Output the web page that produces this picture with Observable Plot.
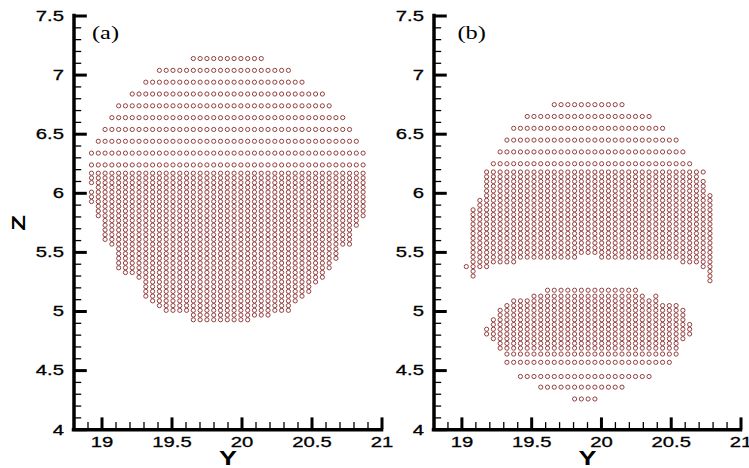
<!DOCTYPE html>
<html>
<head>
<meta charset="utf-8">
<script src="https://cdn.jsdelivr.net/npm/d3@7"></script>
<script src="https://cdn.jsdelivr.net/npm/@observablehq/plot@0.6"></script>
<style>
  html, body { margin: 0; padding: 0; background: #fff; }
  #chart { position: relative; width: 749px; height: 468px; overflow: hidden; }
  #chart svg { position: absolute; top: 0; overflow: visible; }
</style>
</head>
<body>
<div id="chart"></div>
<script>
// Axis ticks (Y horizontal, Z vertical)
const yMajor = [19, 19.5, 20, 20.5, 21];
const zMajor = [4, 4.5, 5, 5.5, 6, 6.5, 7, 7.5];
const yDomain = [18.8, 21];
const zDomain = [4, 7.5];

// Particle lattice spacing along Y
const STEP = 0.0485;

// Panel (a): one particle row per entry -> [Z, first Y, last Y]
const rowsA = [
  [7.14, 19.63, 20.12], [7.04, 19.43, 20.32], [6.94, 19.33, 20.43],
  [6.84, 19.22, 20.57], [6.74, 19.13, 20.62], [6.64, 19.08, 20.72],
  [6.54, 19.03, 20.78], [6.44, 18.98, 20.82], [6.34, 18.93, 20.87],
  [6.24, 18.93, 20.87],
  [6.17, 18.93, 20.87], [6.13, 18.93, 20.87], [6.09, 18.93, 20.87],
  [6.05, 18.95, 20.87], [6.01, 18.93, 20.87], [5.97, 18.93, 20.87],
  [5.93, 18.93, 20.87], [5.89, 18.95, 20.87], [5.85, 18.97, 20.87],
  [5.81, 18.97, 20.85], [5.77, 19.01, 20.83], [5.73, 19.02, 20.81],
  [5.69, 19.03, 20.79], [5.65, 19.03, 20.77], [5.61, 19.03, 20.77],
  [5.57, 19.08, 20.76], [5.53, 19.13, 20.69], [5.49, 19.13, 20.67],
  [5.45, 19.13, 20.65], [5.41, 19.13, 20.64], [5.37, 19.13, 20.62],
  [5.33, 19.18, 20.57], [5.29, 19.27, 20.56], [5.25, 19.32, 20.53],
  [5.21, 19.32, 20.49], [5.17, 19.32, 20.46], [5.13, 19.32, 20.42],
  [5.09, 19.38, 20.37], [5.05, 19.42, 20.34], [5.01, 19.46, 20.32],
  [4.97, 19.63, 20.17], [4.93, 19.67, 20.02]
];

// Panel (b): upper body split from a lower blob
const rowsB = [
  [6.75, 19.68, 20.13], [6.65, 19.47, 20.33], [6.55, 19.38, 20.43],
  [6.45, 19.33, 20.53], [6.35, 19.28, 20.58], [6.25, 19.23, 20.62],
  [6.18, 19.18, 20.73], [6.14, 19.18, 20.67], [6.10, 19.18, 20.71],
  [6.06, 19.18, 20.71], [6.02, 19.18, 20.71], [5.98, 19.18, 20.76],
  [5.94, 19.13, 20.78], [5.90, 19.13, 20.78], [5.86, 19.08, 20.78],
  [5.82, 19.08, 20.78], [5.78, 19.08, 20.78], [5.74, 19.08, 20.78],
  [5.70, 19.08, 20.78], [5.66, 19.08, 20.78], [5.62, 19.08, 20.78],
  [5.58, 19.08, 20.78], [5.54, 19.08, 20.78], [5.50, 19.08, 20.78],
  [5.46, 19.08, 19.83], [5.46, 20.02, 20.78],
  [5.42, 19.08, 19.38], [5.42, 20.59, 20.78],
  [5.38, 19.03, 19.18], [5.38, 20.73, 20.78],
  [5.34, 19.08, 19.08], [5.34, 20.78, 20.78],
  [5.30, 19.08, 19.08], [5.30, 20.78, 20.78],
  [5.26, 20.78, 20.78],
  [5.18, 19.63, 20.23],
  [5.13, 19.53, 20.29], [5.13, 20.41, 20.41],
  [5.09, 19.39, 20.41], [5.05, 19.34, 20.53], [5.01, 19.28, 20.56],
  [4.97, 19.26, 20.57], [4.93, 19.24, 20.57], [4.89, 19.24, 20.62],
  [4.85, 19.19, 20.62], [4.81, 19.19, 20.62], [4.77, 19.24, 20.57],
  [4.73, 19.28, 20.54], [4.69, 19.28, 20.52], [4.64, 19.33, 20.52],
  [4.57, 19.33, 20.48], [4.45, 19.43, 20.33], [4.36, 19.58, 20.13],
  [4.26, 19.79, 19.93]
];

// Expand each row onto the regular Y lattice of its panel
function particles(rows, origin) {
  const pts = [];
  for (const [z, y0, y1] of rows) {
    const k0 = Math.round((y0 - origin) / STEP);
    const k1 = Math.round((y1 - origin) / STEP);
    for (let k = k0; k <= k1; k++) pts.push({Y: origin + k * STEP, Z: z});
  }
  return pts;
}

const yMinor = d3.range(188, 211).map(i => i / 10).filter(v => !yMajor.some(m => Math.abs(m - v) < 1e-6));
const zMinor = d3.range(40, 76).map(i => i / 10).filter(v => !zMajor.some(m => Math.abs(m - v) < 1e-6));
const fmt = d => String(d);

function panel({rows, origin, tag, tagDx, width, marginLeft, marginRight, showZ}) {
  const marks = [
    Plot.dot(particles(rows, origin), {x: "Y", y: "Z", r: 2.1, stroke: "#8e3636", strokeWidth: 0.95, fill: "none"}),
    Plot.ruleY(zMinor, {x1: yDomain[0], x2: 18.855, stroke: "#000", strokeWidth: 1.3}),
    Plot.ruleY(zMajor, {x1: yDomain[0], x2: 18.895, stroke: "#000", strokeWidth: 3}),
    Plot.ruleX(yMinor, {y1: zDomain[0], y2: 4.06, stroke: "#000", strokeWidth: 1.3}),
    Plot.ruleX(yMajor, {y1: zDomain[0], y2: 4.1, stroke: "#000", strokeWidth: 3}),
    Plot.ruleX([yDomain[0]], {stroke: "#000", strokeWidth: 3.5, strokeLinecap: "square"}),
    Plot.ruleY([zDomain[0]], {stroke: "#000", strokeWidth: 3.5, strokeLinecap: "square"}),
    Plot.axisX(yMajor, {tickSize: 0, tickPadding: 7, tickFormat: fmt, label: null, fontSize: 15}),
    Plot.axisY(zMajor, {tickSize: 0, tickPadding: 10, tickFormat: fmt, label: null, fontSize: 15}),
    Plot.text([tag], {frameAnchor: "top-left", dx: tagDx, dy: 17.5, textAnchor: "start", lineAnchor: "middle",
      fontFamily: "'Liberation Serif', 'Times New Roman', serif", fontSize: 18, ariaLabel: "panel-tag"}),
    Plot.text(["Y"], {frameAnchor: "bottom", dy: 29, textAnchor: "middle", lineAnchor: "middle",
      fontWeight: "bold", fontSize: 20})
  ];
  if (showZ) marks.push(Plot.text(["Z"], {frameAnchor: "left", dx: -55.5, rotate: -90, textAnchor: "middle",
    lineAnchor: "middle", fontWeight: "bold", fontSize: 19, ariaLabel: "z-title"}));
  return Plot.plot({
    width, height: 468,
    marginLeft, marginRight, marginTop: 15.5, marginBottom: 38.8,
    x: {domain: yDomain},
    y: {domain: zDomain},
    style: {fontFamily: "'Liberation Sans', Arial, sans-serif", fontSize: "15px", color: "#000",
      background: "transparent", overflow: "visible"},
    marks
  });
}

// Widen lettering horizontally; the anchor point of each label stays put
function widenText(svg) {
  svg.querySelectorAll("text").forEach(t => {
    const g = t.closest("g[aria-label]");
    const role = g ? g.getAttribute("aria-label") : "";
    if (role === "z-title") return;
    const s = role === "panel-tag" ? 1.55 : 1.35;
    const w = t.getComputedTextLength();
    if (!(w > 0)) return;
    t.setAttribute("textLength", (w * s).toFixed(2));
    t.setAttribute("lengthAdjust", "spacingAndGlyphs");
    if (role.includes("tick label")) {
      t.setAttribute("stroke", "#000");
      t.setAttribute("stroke-width", "0.3");
    }
  });
}

const chart = document.getElementById("chart");
const a = panel({rows: rowsA, origin: 18.925, tag: "(a)", tagDx: 18, width: 400, marginLeft: 73.5, marginRight: 18.5, showZ: true});
const b = panel({rows: rowsB, origin: 19.08, tag: "(b)", tagDx: 23.5, width: 369, marginLeft: 53.5, marginRight: 8.5, showZ: false});
a.style.left = "0px";
b.style.left = "380px";
chart.append(a, b);
widenText(a);
widenText(b);
</script>
</body>
</html>
